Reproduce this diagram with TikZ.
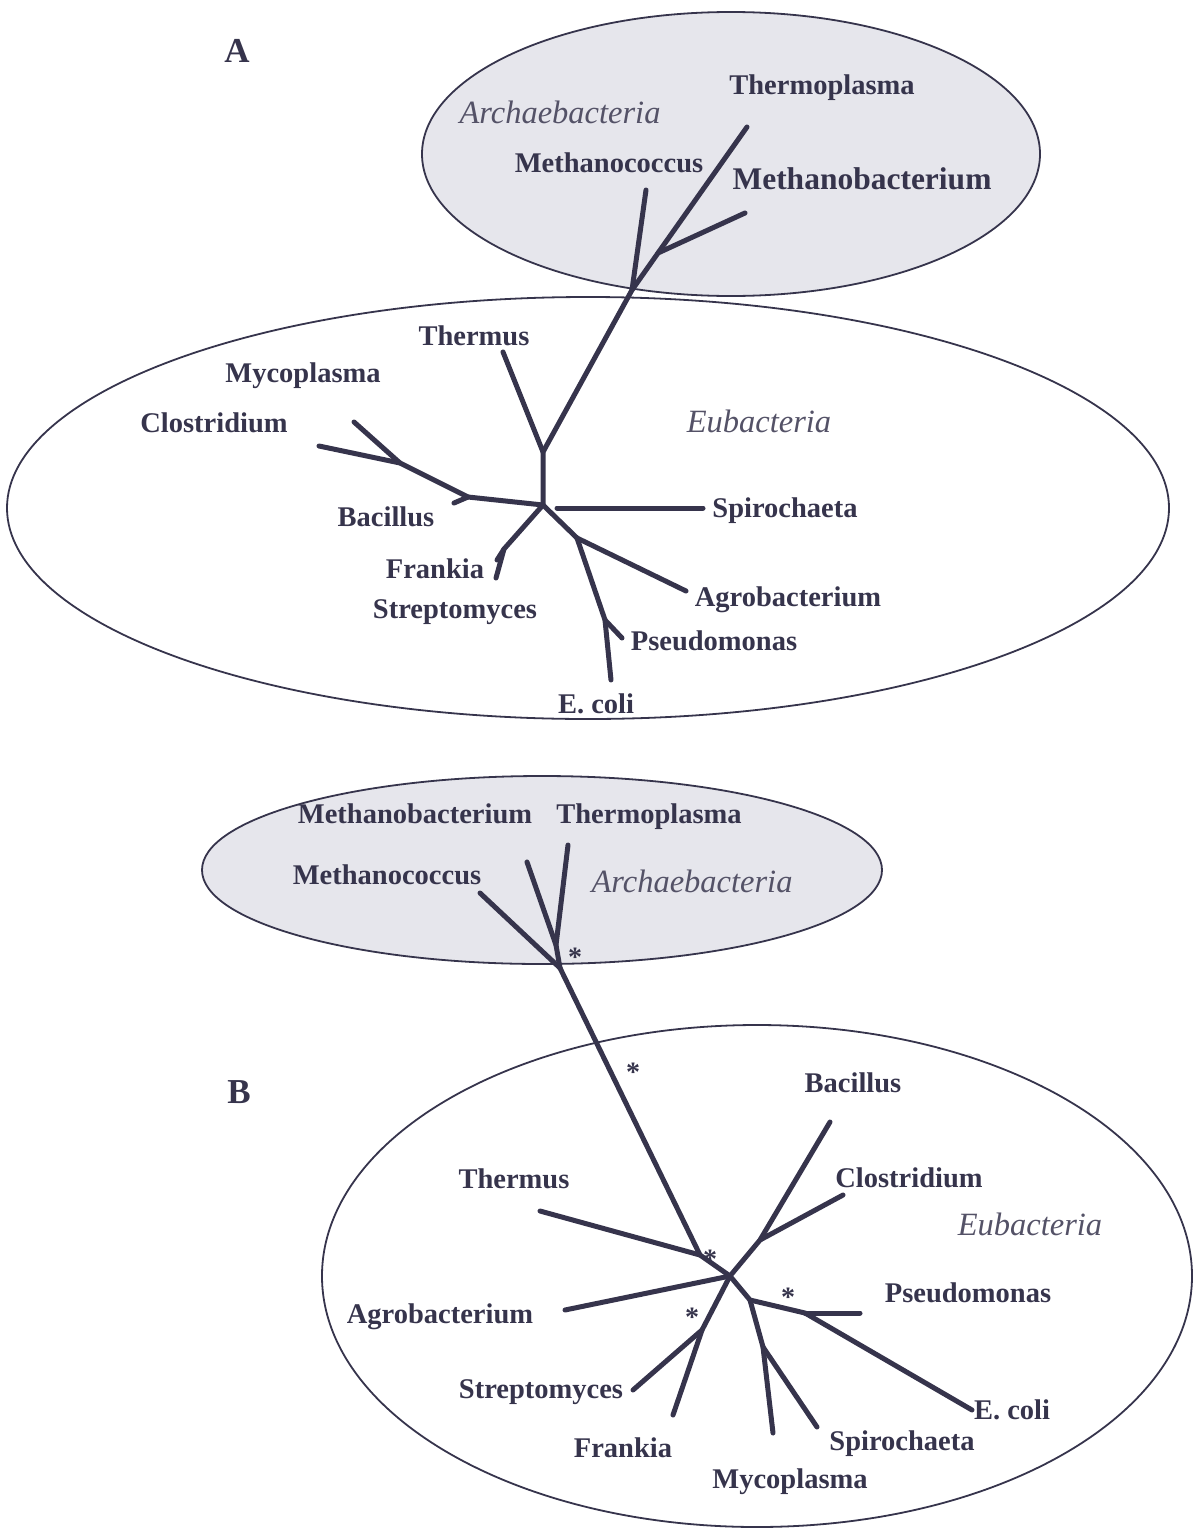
\documentclass[tikz,border=0pt]{standalone}
\usepackage{fontspec}
\setmainfont{Liberation Serif}
\definecolor{inkc}{RGB}{54,52,76}
\definecolor{archfill}{RGB}{230,230,236}
\begin{document}
\begin{tikzpicture}[x=1pt,y=-1pt,
  branch/.style={draw=inkc,line width=5pt,line cap=round,line join=round},
  groupline/.style={draw=inkc,line width=1.8pt},
  lbl/.style={font=\fontsize{28.5}{30}\selectfont\bfseries,text=inkc,inner sep=0pt,anchor=base},
  biglbl/.style={lbl,font=\fontsize{31.5}{33}\selectfont\bfseries},
  panel/.style={lbl,font=\fontsize{35}{37}\selectfont\bfseries},
  grp/.style={font=\fontsize{32.5}{34}\selectfont\itshape,text=inkc!85,inner sep=0pt,anchor=base},
  star/.style={font=\fontsize{28}{30}\selectfont\bfseries,text=inkc,inner sep=0pt,anchor=base}]
\useasboundingbox (0,0) rectangle (1193,1531);

% ---------------- Panel A ----------------
\draw[groupline] (588,508) ellipse [x radius=581, y radius=211];
\draw[groupline,fill=archfill] (731,154) ellipse [x radius=309, y radius=142];

\node[panel] (labA) at (237,62) {A};

% tree A: archaeal part
\coordinate (aT)   at (747,127);
\coordinate (aMB)  at (745,213);
\coordinate (aMBj) at (658,253);
\coordinate (aMC)  at (646,190);
\coordinate (aR)   at (632,290);
% tree A: eubacterial part
\coordinate (aV)   at (543,452);
\coordinate (aTh)  at (503,352);
\coordinate (aC)   at (543,505);
\coordinate (aBj)  at (468,497);
\coordinate (aBac) at (454,503);
\coordinate (aCMj) at (400,463);
\coordinate (aClo) at (319,446);
\coordinate (aMyc) at (354,422);
\coordinate (aFj)  at (504,549);
\coordinate (aFra) at (496,578);
\coordinate (aStr) at (497,560);
\coordinate (aSp1) at (557,508);
\coordinate (aSp2) at (703,508);
\coordinate (aAj)  at (577,538);
\coordinate (aAgr) at (686,591);
\coordinate (aPj)  at (605,620);
\coordinate (aPse) at (622,638);
\coordinate (aEco) at (611,680);

\draw[branch] (aR) -- (aMBj) -- (aT);
\draw[branch] (aMBj) -- (aMB);
\draw[branch] (aR) -- (aMC);
\draw[branch] (aR) -- (aV) -- (aC);
\draw[branch] (aV) -- (aTh);
\draw[branch] (aC) -- (aBj) -- (aCMj) -- (aClo);
\draw[branch] (aCMj) -- (aMyc);
\draw[branch] (aBj) -- (aBac);
\draw[branch] (aC) -- (aFj) -- (aFra);
\draw[branch] (aFj) -- (aStr);
\draw[branch] (aSp1) -- (aSp2);
\draw[branch] (aC) -- (aAj) -- (aAgr);
\draw[branch] (aAj) -- (aPj) -- (aEco);
\draw[branch] (aPj) -- (aPse);

\node[lbl] (aThermoplasma) at (822,94) {Thermoplasma};
\node[grp] (aArch) at (560,123) {Archaebacteria};
\node[lbl] (aMethanococcus) at (609,172) {Methanococcus};
\node[biglbl] (aMethanobacterium) at (862,189) {Methanobacterium};
\node[lbl] (aThermus) at (474,345) {Thermus};
\node[lbl] (aMycoplasma) at (303,382) {Mycoplasma};
\node[lbl] (aClostridium) at (214,432) {Clostridium};
\node[grp] (aEub) at (759,432) {Eubacteria};
\node[lbl] (aSpirochaeta) at (785,517) {Spirochaeta};
\node[lbl] (aBacillus) at (386,526) {Bacillus};
\node[lbl] (aFrankia) at (435,578) {Frankia};
\node[lbl] (aStreptomyces) at (455,618) {Streptomyces};
\node[lbl] (aAgrobacterium) at (788,606) {Agrobacterium};
\node[lbl] (aPseudomonas) at (714,650) {Pseudomonas};
\node[lbl] (aEcoli) at (596,713) {E. coli};

% ---------------- Panel B ----------------
\draw[groupline] (757,1276) ellipse [x radius=435, y radius=251];
\draw[groupline,fill=archfill] (542,870) ellipse [x radius=340, y radius=94];

\node[panel] (labB) at (239,1103) {B};

% tree B: archaeal part
\coordinate (bT)   at (568,845);
\coordinate (bMB)  at (527,862);
\coordinate (bJ1)  at (556,945);
\coordinate (bR)   at (560,968);
\coordinate (bMC)  at (480,893);
% tree B: eubacterial part
\coordinate (bThj) at (700,1255);
\coordinate (bTh)  at (540,1211);
\coordinate (bC)   at (730,1276);
\coordinate (bAgr) at (565,1310);
\coordinate (bBCj) at (760,1240);
\coordinate (bBac) at (830,1122);
\coordinate (bClo) at (843,1195);
\coordinate (bSFj) at (702,1330);
\coordinate (bStr) at (633,1390);
\coordinate (bFra) at (673,1415);
\coordinate (bPj)  at (750,1300);
\coordinate (bPEj) at (805,1313);
\coordinate (bPse) at (860,1313);
\coordinate (bEco) at (972,1410);
\coordinate (bSMj) at (763,1347);
\coordinate (bMyc) at (773,1433);
\coordinate (bSpi) at (817,1427);

\draw[branch] (bT) -- (bJ1) -- (bR);
\draw[branch] (bMB) -- (bJ1);
\draw[branch] (bMC) -- (bR);
\draw[branch] (bR) -- (bThj) -- (bC);
\draw[branch] (bTh) -- (bThj);
\draw[branch] (bAgr) -- (bC);
\draw[branch] (bC) -- (bBCj) -- (bBac);
\draw[branch] (bBCj) -- (bClo);
\draw[branch] (bC) -- (bSFj) -- (bStr);
\draw[branch] (bSFj) -- (bFra);
\draw[branch] (bC) -- (bPj) -- (bPEj) -- (bEco);
\draw[branch] (bPEj) -- (bPse);
\draw[branch] (bPj) -- (bSMj) -- (bMyc);
\draw[branch] (bSMj) -- (bSpi);

\node[star] (s1) at (575,966) {*};
\node[star] (s2) at (633,1081) {*};
\node[star] (s3) at (710,1268) {*};
\node[star] (s4) at (692,1326) {*};
\node[star] (s5) at (788,1306) {*};

\node[lbl] (bMethanobacterium) at (415,823) {Methanobacterium};
\node[lbl] (bThermoplasma) at (649,823) {Thermoplasma};
\node[lbl] (bMethanococcus) at (387,884) {Methanococcus};
\node[grp] (bArch) at (692,892) {Archaebacteria};
\node[lbl] (bBacillus) at (853,1092) {Bacillus};
\node[lbl] (bThermus) at (514,1188) {Thermus};
\node[lbl] (bClostridium) at (909,1187) {Clostridium};
\node[grp] (bEub) at (1030,1235) {Eubacteria};
\node[lbl] (bPseudomonas) at (968,1302) {Pseudomonas};
\node[lbl] (bAgrobacterium) at (440,1323) {Agrobacterium};
\node[lbl] (bStreptomyces) at (541,1398) {Streptomyces};
\node[lbl] (bEcoli) at (1012,1419) {E. coli};
\node[lbl] (bFrankia) at (623,1457) {Frankia};
\node[lbl] (bSpirochaeta) at (902,1450) {Spirochaeta};
\node[lbl] (bMycoplasma) at (790,1488) {Mycoplasma};
\end{tikzpicture}
\end{document}
